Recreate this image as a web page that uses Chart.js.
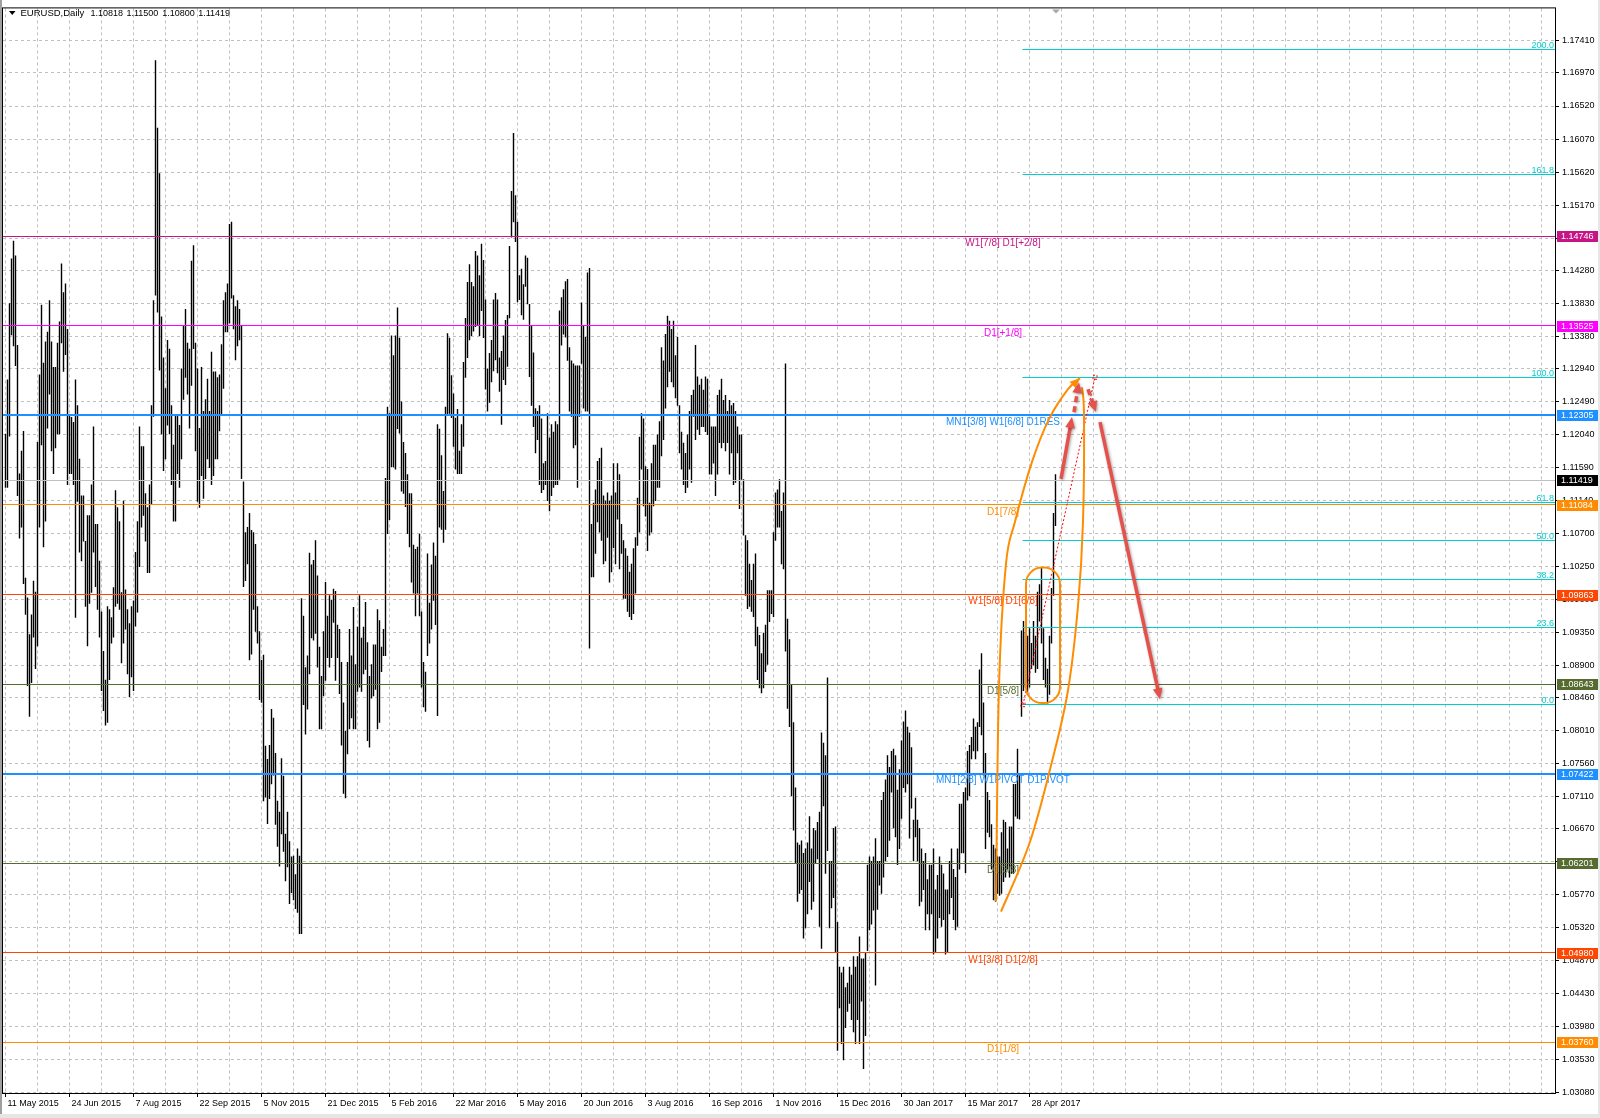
<!DOCTYPE html>
<html>
<head>
<meta charset="utf-8">
<title>EURUSD,Daily</title>
<script src="https://cdn.jsdelivr.net/npm/chart.js@4.4.1/dist/chart.umd.min.js"></script>
<style>
  html,body{margin:0;padding:0;background:#fff;}
  #grafico{display:block;width:1600px;height:1118px;}
</style>
</head>
<body>
<canvas id="grafico" width="1600" height="1118"></canvas>
<script>
//=========================datos del grafico============================
const simbolo = 'EURUSD,Daily';
const ohlcActual = ['1.10818','1.11500','1.10800','1.11419'];
const precioActual = 1.11419;

// una etiqueta de fecha cada 32 barras
const etiquetasFecha = ['11 May 2015','24 Jun 2015','7 Aug 2015','22 Sep 2015','5 Nov 2015','21 Dec 2015',
  '5 Feb 2016','22 Mar 2016','5 May 2016','20 Jun 2016','3 Aug 2016','16 Sep 2016','1 Nov 2016',
  '15 Dec 2016','30 Jan 2017','15 Mar 2017','28 Apr 2017'];

const etiquetasPrecio = ['1.17410','1.16970','1.16520','1.16070','1.15620','1.15170','1.14720','1.14280',
  '1.13830','1.13380','1.12940','1.12490','1.12040','1.11590','1.11140','1.10700','1.10250','1.09800',
  '1.09350','1.08900','1.08460','1.08010','1.07560','1.07110','1.06670','1.06220','1.05770','1.05320',
  '1.04870','1.04430','1.03980','1.03530','1.03080'];

// maximos diarios
const barHigh = [
  1.1205,1.1279,1.1383,1.1444,1.1468,1.1448,1.1326,1.1151,1.1182,1.1209,
  1.1009,1.0982,1.0932,1.0959,1.1005,1.0990,1.1194,1.1286,1.1381,1.1302,
  1.1331,1.1344,1.1387,1.1331,1.1296,1.1296,1.1329,1.1358,1.1437,1.1398,
  1.1410,1.1348,1.1232,1.1228,1.1221,1.1279,1.1244,1.1171,1.1121,1.1121,
  1.1059,1.1094,1.1094,1.1136,1.1215,1.1082,1.1082,1.1032,1.0963,1.0909,
  1.0870,1.0970,1.0966,1.0955,1.0996,1.1128,1.1105,1.1086,1.0989,1.1114,
  1.0993,1.0966,1.0947,1.0970,1.0978,1.1044,1.1086,1.1215,1.1188,1.1188,
  1.1124,1.1105,1.1136,1.1244,1.1387,1.1714,1.1622,1.1560,1.1365,1.1309,
  1.1267,1.1333,1.1321,1.1244,1.1190,1.1232,1.1232,1.1217,1.1294,1.1352,
  1.1375,1.1329,1.1321,1.1441,1.1462,1.1329,1.1294,1.1213,1.1296,1.1236,
  1.1252,1.1280,1.1236,1.1317,1.1290,1.1290,1.1282,1.1286,1.1327,1.1387,
  1.1398,1.1410,1.1491,1.1494,1.1394,1.1379,1.1387,1.1375,1.1352,1.1140,
  1.1071,1.1078,1.1097,1.1074,1.1071,1.1055,1.0970,1.0936,1.0897,1.0904,
  1.0780,1.0762,1.0781,1.0830,1.0818,1.0770,1.0705,1.0690,1.0763,1.0739,
  1.0660,1.0690,1.0650,1.0629,1.0630,1.0605,1.0640,1.0630,1.0981,1.0957,
  1.0887,1.0903,1.1043,1.1027,1.1033,1.1060,1.1012,1.0915,1.0875,1.0936,
  1.1003,1.0957,1.0985,1.0979,1.0994,1.0991,1.0945,1.0939,1.0894,1.0839,
  1.0800,1.0894,1.0939,1.0903,1.0969,1.0891,1.0942,1.0985,1.0927,1.0942,
  1.0976,1.0921,1.0875,1.0891,1.0918,1.0918,1.0966,1.0951,1.0915,1.0939,
  1.1145,1.1242,1.1233,1.1339,1.1312,1.1339,1.1377,1.1336,1.1249,1.1194,
  1.1179,1.1150,1.1124,1.1124,1.1054,1.1048,1.1051,1.1069,1.0963,1.0894,
  1.0881,1.1042,1.0975,1.1027,1.1057,1.1039,1.1218,1.1212,1.1176,1.1127,
  1.1242,1.1342,1.1336,1.1285,1.1260,1.1227,1.1239,1.1182,1.1218,1.1303,
  1.1363,1.1412,1.1436,1.1412,1.1406,1.1454,1.1448,1.1421,1.1464,1.1442,
  1.1388,1.1294,1.1315,1.1333,1.1388,1.1397,1.1388,1.1309,1.1318,1.1339,
  1.1360,1.1367,1.1461,1.1536,1.1615,1.1530,1.1494,1.1421,1.1430,1.1409,
  1.1448,1.1445,1.1382,1.1352,1.1316,1.1240,1.1236,1.1244,1.1226,1.1165,
  1.1168,1.1233,1.1200,1.1218,1.1208,1.1222,1.1218,1.1373,1.1391,1.1402,
  1.1413,1.1416,1.1323,1.1305,1.1301,1.1298,1.1298,1.1298,1.1384,1.1352,
  1.1337,1.1425,1.1431,1.1082,1.1111,1.1129,1.1168,1.1172,1.1186,1.1121,
  1.1114,1.1125,1.1114,1.1121,1.1165,1.1125,1.1165,1.1150,1.1082,1.1060,
  1.1049,1.1039,1.1017,1.1028,1.1049,1.1064,1.1118,1.1201,1.1233,1.1226,
  1.1161,1.1157,1.1111,1.1165,1.1190,1.1190,1.1204,1.1222,1.1323,1.1305,
  1.1341,1.1366,1.1359,1.1348,1.1359,1.1312,1.1337,1.1244,1.1208,1.1193,
  1.1179,1.1204,1.1236,1.1258,1.1265,1.1326,1.1283,1.1272,1.1280,1.1265,
  1.1283,1.1280,1.1229,1.1215,1.1215,1.1215,1.1258,1.1265,1.1280,1.1251,
  1.1258,1.1236,1.1251,1.1244,1.1247,1.1236,1.1215,1.1204,1.1204,1.1143,
  1.1067,1.1060,1.1028,1.1006,1.1028,1.1042,1.0942,1.0931,1.0906,1.0934,
  1.0945,1.0992,1.0992,1.0992,1.1071,1.1125,1.1129,1.1143,1.1100,1.1125,
  1.1301,1.0953,1.0925,1.0863,1.0812,1.0723,1.0648,1.0645,1.0651,1.0634,
  1.0640,1.0648,1.0684,1.0640,1.0668,1.0665,1.0676,1.0690,1.0798,1.0784,
  1.0767,1.0873,1.0623,1.0623,1.0668,1.0670,1.0540,1.0479,1.0471,1.0479,
  1.0451,1.0457,1.0479,1.0468,1.0493,1.0479,1.0493,1.0520,1.0490,1.0490,
  1.0498,1.0618,1.0629,1.0623,1.0629,1.0654,1.0623,1.0623,1.0706,1.0717,
  1.0734,1.0767,1.0751,1.0773,1.0776,1.0767,1.0720,1.0748,1.0787,1.0813,
  1.0828,1.0806,1.0798,1.0778,1.0679,1.0709,1.0679,1.0668,1.0640,1.0623,
  1.0634,1.0598,1.0618,1.0618,1.0640,1.0584,1.0604,1.0629,1.0618,1.0606,
  1.0584,1.0584,1.0623,1.0640,1.0612,1.0601,1.0640,1.0701,1.0701,1.0717,
  1.0723,1.0773,1.0781,1.0792,1.0817,1.0806,1.0812,1.0884,1.0906,1.0839,
  1.0770,1.0717,1.0706,1.0673,1.0645,1.0640,1.0629,1.0629,1.0662,1.0679,
  1.0676,1.0640,1.0670,1.0670,1.0728,1.0728,1.0776,1.0740,1.0937,1.0950,
  1.0935,1.0930,1.0940,1.0920,1.0950,1.0930,1.0990,1.1000,1.1023,1.0940,
  1.0900,1.0885,1.0930,1.0995,1.1097,1.1150
];

// minimos diarios
const barLow = [
  1.1132,1.1132,1.1202,1.1340,1.1325,1.1298,1.1121,1.1063,1.1078,1.1001,
  1.0959,1.0862,1.0820,1.0866,1.0928,1.0885,1.0916,1.1078,1.1190,1.1051,
  1.1086,1.1213,1.1259,1.1182,1.1151,1.1186,1.1205,1.1205,1.1329,1.1290,
  1.1313,1.1136,1.1151,1.1151,1.1136,1.0955,1.1113,1.1044,1.1032,1.1059,
  1.0970,1.0916,1.0974,1.0989,1.1044,1.0997,1.0966,1.0928,1.0855,1.0828,
  1.0808,1.0812,1.0870,1.0920,1.0928,1.0970,1.0974,1.0966,1.0893,1.0920,
  1.0939,1.0878,1.0847,1.0874,1.0855,1.0943,1.0962,1.1024,1.1078,1.1094,
  1.1059,1.1016,1.1016,1.1109,1.1229,1.1394,1.1371,1.1292,1.1205,1.1155,
  1.1171,1.1217,1.1205,1.1136,1.1086,1.1086,1.1151,1.1132,1.1171,1.1252,
  1.1282,1.1259,1.1213,1.1271,1.1321,1.1182,1.1113,1.1105,1.1148,1.1117,
  1.1144,1.1171,1.1159,1.1136,1.1148,1.1171,1.1171,1.1209,1.1232,1.1267,
  1.1344,1.1344,1.1356,1.1390,1.1348,1.1306,1.1325,1.1333,1.1144,1.0997,
  1.1005,1.1028,1.0897,1.0905,1.0966,1.0936,1.0920,1.0843,1.0839,1.0705,
  1.0710,1.0674,1.0708,1.0728,1.0740,1.0673,1.0643,1.0616,1.0660,1.0636,
  1.0596,1.0615,1.0565,1.0580,1.0570,1.0558,1.0553,1.0524,1.0524,1.0836,
  1.0796,1.0830,1.0878,1.0927,1.0924,1.0933,1.0887,1.0803,1.0803,1.0848,
  1.0869,1.0900,1.0887,1.0900,1.0948,1.0869,1.0900,1.0851,1.0781,1.0715,
  1.0709,1.0769,1.0803,1.0818,1.0803,1.0803,1.0854,1.0860,1.0854,1.0878,
  1.0884,1.0787,1.0778,1.0845,1.0848,1.0857,1.0803,1.0812,1.0881,1.0903,
  1.0903,1.1069,1.1088,1.1160,1.1160,1.1157,1.1212,1.1206,1.1127,1.1124,
  1.1106,1.1069,1.1051,1.1003,1.0988,1.0957,1.0988,1.0957,1.0860,1.0833,
  1.0827,1.0903,1.0920,1.0939,1.0978,1.0945,1.0821,1.1078,1.1075,1.1057,
  1.1075,1.1230,1.1233,1.1227,1.1188,1.1157,1.1151,1.1151,1.1151,1.1188,
  1.1282,1.1309,1.1333,1.1339,1.1345,1.1351,1.1354,1.1339,1.1373,1.1336,
  1.1266,1.1236,1.1248,1.1276,1.1291,1.1306,1.1288,1.1263,1.1218,1.1279,
  1.1272,1.1297,1.1363,1.1473,1.1494,1.1467,1.1385,1.1388,1.1367,1.1361,
  1.1406,1.1382,1.1283,1.1244,1.1215,1.1179,1.1197,1.1136,1.1125,1.1129,
  1.1136,1.1114,1.1100,1.1121,1.1132,1.1136,1.1136,1.1143,1.1326,1.1341,
  1.1337,1.1305,1.1236,1.1229,1.1186,1.1190,1.1132,1.1229,1.1301,1.1240,
  1.1236,1.1236,1.0913,1.1010,1.1010,1.1042,1.1085,1.1071,1.1060,1.1028,
  1.1032,1.1064,1.1003,1.1017,1.1050,1.1028,1.1089,1.1021,1.1042,1.0981,
  1.0981,1.0963,1.0956,1.0952,1.0960,1.0988,1.1053,1.1071,1.1157,1.1107,
  1.1093,1.1046,1.1067,1.1071,1.1107,1.1114,1.1132,1.1132,1.1175,1.1197,
  1.1240,1.1269,1.1290,1.1276,1.1269,1.1254,1.1244,1.1179,1.1157,1.1136,
  1.1125,1.1132,1.1157,1.1139,1.1229,1.1197,1.1211,1.1204,1.1215,1.1215,
  1.1208,1.1204,1.1150,1.1150,1.1165,1.1121,1.1150,1.1193,1.1186,1.1193,
  1.1182,1.1193,1.1150,1.1179,1.1136,1.1139,1.1179,1.1103,1.1143,1.1067,
  1.0985,1.0967,1.0970,1.0963,1.0956,1.0916,1.0870,1.0859,1.0852,1.0859,
  1.0881,1.0891,1.0949,1.0960,1.0956,1.1060,1.1078,1.1078,1.1028,1.1021,
  1.0909,1.0831,1.0806,1.0712,1.0665,1.0620,1.0568,1.0579,1.0584,1.0518,
  1.0532,1.0551,1.0595,1.0557,1.0568,1.0620,1.0626,1.0534,1.0504,1.0698,
  1.0606,1.0637,1.0532,1.0559,1.0573,1.0498,1.0365,1.0423,1.0374,1.0352,
  1.0396,1.0418,1.0429,1.0407,1.0390,1.0374,1.0407,1.0374,1.0432,1.0340,
  1.0385,1.0501,1.0529,1.0537,1.0556,1.0454,1.0557,1.0590,1.0579,1.0601,
  1.0623,1.0629,1.0651,1.0717,1.0668,1.0656,1.0618,1.0640,1.0681,1.0723,
  1.0717,1.0728,1.0654,1.0695,1.0623,1.0656,1.0623,1.0562,1.0568,1.0584,
  1.0529,1.0551,1.0529,1.0551,1.0496,1.0498,1.0518,1.0546,1.0534,1.0543,
  1.0496,1.0498,1.0551,1.0573,1.0543,1.0529,1.0534,1.0612,1.0634,1.0634,
  1.0607,1.0706,1.0712,1.0762,1.0773,1.0762,1.0773,1.0806,1.0795,1.0740,
  1.0640,1.0662,1.0656,1.0612,1.0570,1.0568,1.0579,1.0576,1.0579,1.0595,
  1.0601,1.0612,1.0601,1.0606,1.0606,1.0684,1.0681,1.0680,1.0820,1.0855,
  1.0860,1.0850,1.0860,1.0885,1.0890,1.0880,1.0885,1.0950,1.0920,1.0870,
  1.0860,1.0838,1.0850,1.0920,1.0985,1.1080
];

// niveles horizontales (Murrey)
const nivelesPrecio = [1.14746,1.13525,1.12305,1.11084,1.09863,1.08643,1.07422,1.06201,1.04980,1.03760];
const nivelesNombre = ['W1[7/8] D1[+2/8]','D1[+1/8]','MN1[3/8] W1[6/8] D1RES','D1[7/8]','W1[5/8] D1[6/8]',
  'D1[5/8]','MN1[2/8] W1PIVOT D1PIVOT','D1[3/8]','W1[3/8] D1[2/8]','D1[1/8]'];
const nivelesColor = ['#C71585','#FF00FF','#1E90FF','#FF8C00','#FF4500','#556B2F','#1E90FF','#556B2F','#FF4500','#FF8C00'];
const nivelesGrosor = [1,1,2,1,1,1,2,1,1,1];
const nivelesEtiquetaIdx = 498.75;

// fibonacci
const fibNiveles = [0,23.6,38.2,50,61.8,100,161.8,200];
const fibEtiquetas = ['0.0','23.6','38.2','50.0','61.8','100.0','161.8','200.0'];
const fibBajo = 1.08362, fibAlto = 1.12824;
const fibInicio = 508.5;
const fibLinea = [[508.75,1.08362],[544.75,1.12824]];

// dibujos a mano (indice de barra, precio)
const curvaIzq = [[495.25,1.05679],[496.75,1.08613],[500.25,1.10284],[504.75,1.10855],[513.25,1.11670],
  [521.75,1.12254],[531.25,1.12661],[537.25,1.12811]];
const curvaDer = [[497.75,1.05544],[512.25,1.06494],[523.75,1.07642],[531.25,1.08559],[536.25,1.09707],
  [538.75,1.10855],[539.25,1.12308],[538.25,1.12688]];
const ovaloCentro = [518.75,1.09307];
const ovaloRadio = [8.5,0.00923];
const flechaSube = [[527.75,1.11439],[533.25,1.12281]];
const flechaSubeTrazos = [[534.25,1.12349],[536.75,1.12756]];
const flechaBajaTrazos = [[541.25,1.12661],[545.25,1.12349]];
const flechaBaja = [[547.25,1.12213],[577.25,1.08437]];

//=========================estilos============================
const fuente = '"Liberation Sans", Arial, sans-serif';
const colorGrid = '#C0C0C0';
const colorFib = '#00CED1';
const colorNaranja = '#FF8C00';
const colorRojo = '#E4524B';

const xTicks = [];
for (let v = 0; v <= 768; v += 16) xTicks.push(v);
const yTicks = etiquetasPrecio.map(Number).reverse();

const velas = barHigh.map((h, i) => ({ x: i, y: [barLow[i], h] }));

function nitido(v){ return Math.round(v - 0.5) + 0.5; }

function lineaH(ctx, a, y, color, ancho){
  const yy = ancho % 2 ? nitido(y) : Math.round(y);
  ctx.strokeStyle = color;
  ctx.lineWidth = ancho;
  ctx.setLineDash([]);
  ctx.beginPath();
  ctx.moveTo(a.left, yy);
  ctx.lineTo(a.right, yy);
  ctx.stroke();
}

function curvaSuave(ctx, pts){
  ctx.beginPath();
  ctx.moveTo(pts[0][0], pts[0][1]);
  for (let k = 0; k < pts.length - 1; k++){
    const p0 = pts[k-1] || pts[k], p1 = pts[k], p2 = pts[k+1], p3 = pts[k+2] || p2;
    ctx.bezierCurveTo(p1[0] + (p2[0]-p0[0])/6, p1[1] + (p2[1]-p0[1])/6,
                      p2[0] - (p3[0]-p1[0])/6, p2[1] - (p3[1]-p1[1])/6, p2[0], p2[1]);
  }
  ctx.stroke();
}

function punta(ctx, desde, hasta, largo, color){
  const ang = Math.atan2(hasta[1]-desde[1], hasta[0]-desde[0]);
  ctx.beginPath();
  ctx.moveTo(hasta[0], hasta[1]);
  ctx.lineTo(hasta[0] - largo*Math.cos(ang-0.42), hasta[1] - largo*Math.sin(ang-0.42));
  ctx.lineTo(hasta[0] - largo*Math.cos(ang+0.42), hasta[1] - largo*Math.sin(ang+0.42));
  ctx.closePath();
  ctx.fillStyle = color;
  ctx.fill();
}

function flecha(ctx, a, b, trazos, conPunta){
  ctx.save();
  ctx.shadowColor = 'rgba(0,0,0,0.35)';
  ctx.shadowBlur = 3;
  ctx.shadowOffsetX = 1;
  ctx.shadowOffsetY = 1;
  ctx.strokeStyle = colorRojo;
  ctx.lineWidth = 3.5;
  ctx.lineCap = 'butt';
  ctx.setLineDash(trazos ? [6,4] : []);
  const ang = Math.atan2(b[1]-a[1], b[0]-a[0]);
  ctx.beginPath();
  ctx.moveTo(a[0], a[1]);
  ctx.lineTo(b[0] - 7*Math.cos(ang), b[1] - 7*Math.sin(ang));
  ctx.stroke();
  ctx.setLineDash([]);
  if (conPunta) punta(ctx, a, b, 12, colorRojo);
  ctx.restore();
}

const pluginNiveles = {
  id: 'niveles',
  afterDatasetsDraw(chart){
    const {ctx, chartArea: a, scales: {x, y}} = chart;
    const P = q => [x.getPixelForValue(q[0]), y.getPixelForValue(q[1])];
    ctx.save();
    ctx.beginPath();
    ctx.rect(a.left, a.top, a.right - a.left, a.bottom - a.top);
    ctx.clip();

    lineaH(ctx, a, y.getPixelForValue(precioActual), '#C0C0C0', 1);
    nivelesPrecio.forEach((p, k) => lineaH(ctx, a, y.getPixelForValue(p), nivelesColor[k], nivelesGrosor[k]));

    // niveles fibo
    const xFib = x.getPixelForValue(fibInicio);
    ctx.font = '9px ' + fuente;
    ctx.textAlign = 'right';
    ctx.textBaseline = 'alphabetic';
    fibNiveles.forEach((f, k) => {
      const yy = nitido(y.getPixelForValue(fibBajo + (fibAlto - fibBajo) * f / 100));
      ctx.strokeStyle = colorFib;
      ctx.lineWidth = 1;
      ctx.setLineDash([]);
      ctx.beginPath();
      ctx.moveTo(xFib, yy);
      ctx.lineTo(a.right, yy);
      ctx.stroke();
      ctx.fillStyle = colorFib;
      ctx.fillText(fibEtiquetas[k], a.right - 1, yy - 2);
    });

    // textos de los niveles
    ctx.font = '10px ' + fuente;
    ctx.textAlign = 'center';
    ctx.textBaseline = 'middle';
    const xTxt = x.getPixelForValue(nivelesEtiquetaIdx);
    nivelesPrecio.forEach((p, k) => {
      ctx.fillStyle = nivelesColor[k];
      ctx.fillText(nivelesNombre[k], xTxt, y.getPixelForValue(p) + 7);
    });

    // linea punteada del fibo
    const f0 = P(fibLinea[0]), f1 = P(fibLinea[1]);
    ctx.strokeStyle = '#FF0000';
    ctx.lineWidth = 1;
    ctx.setLineDash([2,2]);
    ctx.beginPath();
    ctx.moveTo(f0[0], f0[1]);
    ctx.lineTo(f1[0], f1[1]);
    ctx.stroke();
    ctx.strokeRect(f0[0]-2, f0[1]-2, 4, 4);
    ctx.strokeRect(f1[0]-2, f1[1]-2, 4, 4);
    ctx.setLineDash([]);

    // elipse grande y ovalo
    ctx.strokeStyle = colorNaranja;
    ctx.lineWidth = 2;
    const izq = curvaIzq.map(P), der = curvaDer.map(P);
    curvaSuave(ctx, izq);
    curvaSuave(ctx, der);
    punta(ctx, izq[izq.length-2], izq[izq.length-1], 11, colorNaranja);
    const c = P(ovaloCentro);
    const rx = x.getPixelForValue(ovaloCentro[0] + ovaloRadio[0]) - c[0];
    const ry = y.getPixelForValue(ovaloCentro[1] - ovaloRadio[1]) - c[1];
    ctx.beginPath();
    ctx.roundRect(c[0]-rx, c[1]-ry, rx*2, ry*2, rx*0.95);
    ctx.stroke();

    // flechas rojas
    flecha(ctx, P(flechaSube[0]), P(flechaSube[1]), false, true);
    flecha(ctx, P(flechaSubeTrazos[0]), P(flechaSubeTrazos[1]), true, true);
    flecha(ctx, P(flechaBajaTrazos[0]), P(flechaBajaTrazos[1]), true, true);
    flecha(ctx, P(flechaBaja[0]), P(flechaBaja[1]), false, true);

    ctx.restore();
  },
  afterDraw(chart){
    const {ctx, chartArea: a, scales: {x, y}} = chart;
    ctx.save();
    // etiquetas de precio en el eje
    ctx.font = '9px ' + fuente;
    ctx.textAlign = 'left';
    ctx.textBaseline = 'middle';
    const cajas = nivelesPrecio.map((p, k) => [p, nivelesColor[k]]).concat([[precioActual, '#000000']]);
    cajas.forEach(([p, col]) => {
      const yy = Math.round(y.getPixelForValue(p));
      ctx.fillStyle = col;
      ctx.fillRect(a.right + 2, yy - 5, 42, 11);
      ctx.fillStyle = '#FFFFFF';
      ctx.fillText(p.toFixed(5), a.right + 6, yy + 0.5);
    });

    // marco
    ctx.fillStyle = '#A0A0A0';
    ctx.fillRect(0, 0, 2, 1118);
    ctx.fillStyle = '#E6E6E6';
    ctx.fillRect(0, 1114, 1600, 4);
    ctx.fillRect(1598, 0, 2, 1118);
    ctx.strokeStyle = '#000000';
    ctx.lineWidth = 1;
    ctx.strokeRect(a.left - 0.5, a.top - 0.5, a.right - a.left + 1, a.bottom - a.top + 1);

    // marca de desplazamiento
    const xs = Math.round(x.getPixelForValue(barHigh.length - 1));
    ctx.fillStyle = '#A8A8A8';
    ctx.beginPath();
    ctx.moveTo(xs - 4, a.top + 1);
    ctx.lineTo(xs + 4, a.top + 1);
    ctx.lineTo(xs, a.top + 5);
    ctx.closePath();
    ctx.fill();

    // cabecera
    ctx.fillStyle = '#000000';
    ctx.beginPath();
    ctx.moveTo(9, 11); ctx.lineTo(15.5, 11); ctx.lineTo(12.25, 15);
    ctx.closePath();
    ctx.fill();
    ctx.font = '9.5px ' + fuente;
    ctx.textBaseline = 'middle';
    ctx.fillText(simbolo, 20.5, 13.5);
    ctx.font = '9px ' + fuente;
    ohlcActual.forEach((t, k) => ctx.fillText(t, 90.5 + k * 35.9, 13.5));
    ctx.restore();
  }
};

new Chart(document.getElementById('grafico').getContext('2d'), {
  type: 'bar',
  data: {
    datasets: [{
      data: velas,
      backgroundColor: '#000000',
      borderWidth: 0,
      borderSkipped: false,
      inflateAmount: 0.2,
      barThickness: 1
    }]
  },
  options: {
    responsive: false,
    animation: false,
    devicePixelRatio: 1,
    events: [],
    layout: { padding: { left: 3, top: 5, right: 0, bottom: 0 } },
    plugins: { legend: { display: false }, tooltip: { enabled: false } },
    scales: {
      x: {
        type: 'linear',
        offset: false,
        bounds: 'data',
        min: -1.25,
        max: 774.75,
        afterBuildTicks: s => { s.ticks = xTicks.map(v => ({ value: v })); },
        afterFit: s => { s.height = 25; },
        grid: {
          offset: false,
          color: colorGrid,
          lineWidth: 1,
          tickLength: 4,
          tickColor: c => (c.tick && c.tick.label) ? '#000000' : 'rgba(0,0,0,0)'
        },
        border: { display: false, dash: [3,3] },
        ticks: {
          autoSkip: false,
          maxRotation: 0,
          minRotation: 0,
          align: 'start',
          labelOffset: 2,
          padding: 1,
          color: '#000000',
          font: { family: 'Liberation Sans', size: 9 },
          callback: v => (v % 32 === 0 && etiquetasFecha[v / 32]) ? etiquetasFecha[v / 32] : ''
        }
      },
      y: {
        type: 'linear',
        position: 'right',
        bounds: 'data',
        beginAtZero: false,
        min: 1.03071,
        max: 1.17850,
        afterBuildTicks: s => { s.ticks = yTicks.map(v => ({ value: v })); },
        afterFit: s => { s.width = 45; },
        grid: { color: colorGrid, lineWidth: 1, tickLength: 4, tickColor: '#000000' },
        border: { display: false, dash: [3,3] },
        ticks: {
          autoSkip: false,
          padding: 3,
          color: '#000000',
          font: { family: 'Liberation Sans', size: 9 },
          callback: v => Number(v).toFixed(5)
        }
      }
    }
  },
  plugins: [pluginNiveles]
});
</script>
</body>
</html>
